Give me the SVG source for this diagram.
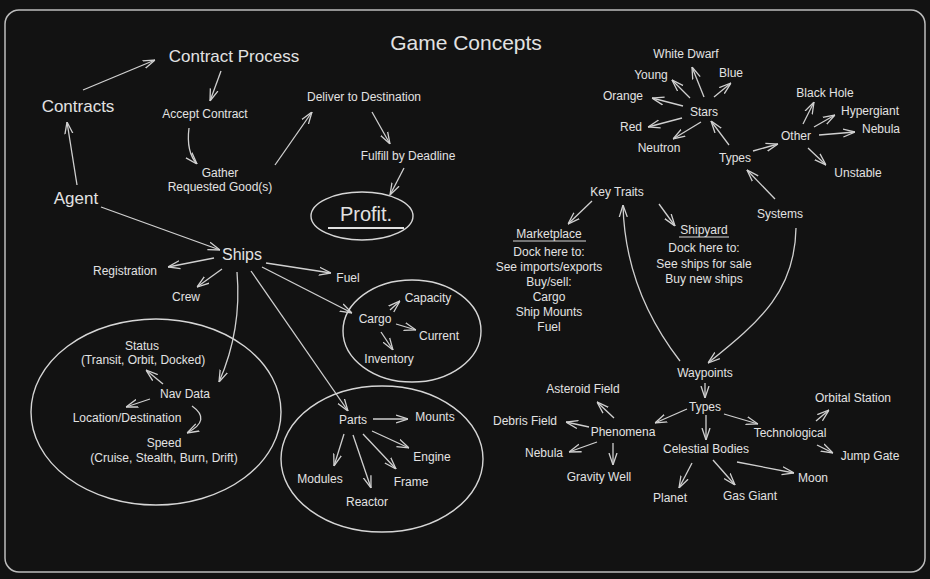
<svg xmlns="http://www.w3.org/2000/svg" width="930" height="579" viewBox="0 0 930 579">
<defs>
<style>
text{font-family:"Liberation Sans","DejaVu Sans",sans-serif;fill:#e2e2e2;text-anchor:middle;dominant-baseline:central}
.s{font-size:12px}
.m{font-size:14px}
.l{font-size:17px}
.c line,.c path{stroke:#d0d0d0;stroke-width:1.3;fill:none;marker-end:url(#a)}
.sh{fill:none;stroke:#d6d6d6;stroke-width:1.4}
.ul{stroke:#d6d6d6;stroke-width:1.2}
</style>
<marker id="a" viewBox="0 0 12 10" refX="12" refY="5" markerWidth="12" markerHeight="10" markerUnits="userSpaceOnUse" orient="auto">
<path d="M0,1 L12,5 L0,9" fill="none" stroke="#d0d0d0" stroke-width="1.3"/>
</marker>
</defs>
<rect width="930" height="579" fill="#121212"/>
<rect id="frame" x="5" y="10" width="920" height="562" rx="14" fill="none" stroke="#bdbdbd" stroke-width="1.5"/>
<g id="title"><text x="466" y="42" style="font-size:21px">Game Concepts</text></g>

<g id="contract-process"><text class="l" x="234" y="56">Contract Process</text></g>
<g id="contracts"><text class="l" x="78" y="106">Contracts</text></g>
<g id="agent"><text class="l" x="76" y="198">Agent</text></g>
<g id="accept-contract"><text class="s" x="205" y="114">Accept Contract</text></g>
<g id="gather"><text class="s" x="220" y="173">Gather</text><text class="s" x="220" y="187">Requested Good(s)</text></g>
<g id="deliver"><text class="s" x="364" y="97">Deliver to Destination</text></g>
<g id="fulfill"><text class="s" x="408" y="156">Fulfill by Deadline</text></g>
<g id="profit"><ellipse class="sh" cx="362" cy="216" rx="51" ry="24"/><text x="366" y="214" style="font-size:20px">Profit.</text><line x1="328" y1="228" x2="404" y2="228" stroke="#e0e0e0" stroke-width="2.2"/></g>

<g id="ships"><text x="242" y="254" style="font-size:16px">Ships</text></g>
<g id="registration"><text class="s" x="125" y="271">Registration</text></g>
<g id="crew"><text class="s" x="186" y="297">Crew</text></g>
<g id="fuel"><text class="s" x="348" y="278">Fuel</text></g>

<g id="cargo-group"><ellipse class="sh" cx="412" cy="331" rx="69" ry="51"/></g>
<g id="cargo"><text class="s" x="375" y="319">Cargo</text></g>
<g id="capacity"><text class="s" x="428" y="298">Capacity</text></g>
<g id="current"><text class="s" x="439" y="336">Current</text></g>
<g id="inventory"><text class="s" x="389" y="359">Inventory</text></g>

<g id="parts-group"><ellipse class="sh" cx="382" cy="459" rx="101" ry="73"/></g>
<g id="parts"><text class="s" x="353" y="420">Parts</text></g>
<g id="mounts"><text class="s" x="435" y="417">Mounts</text></g>
<g id="engine"><text class="s" x="432" y="457">Engine</text></g>
<g id="frame-part"><text class="s" x="411" y="482">Frame</text></g>
<g id="modules"><text class="s" x="320" y="479">Modules</text></g>
<g id="reactor"><text class="s" x="367" y="502">Reactor</text></g>

<g id="nav-group"><ellipse class="sh" cx="156" cy="412" rx="125" ry="93"/></g>
<g id="status"><text class="s" x="142" y="346">Status</text><text class="s" x="143" y="360">(Transit, Orbit, Docked)</text></g>
<g id="nav-data"><text class="s" x="185" y="394">Nav Data</text></g>
<g id="location"><text class="s" x="127" y="418">Location/Destination</text></g>
<g id="speed"><text class="s" x="164" y="443">Speed</text><text class="s" x="164" y="458">(Cruise, Stealth, Burn, Drift)</text></g>

<g id="white-dwarf"><text class="s" x="686" y="54">White Dwarf</text></g>
<g id="young"><text class="s" x="651" y="75">Young</text></g>
<g id="blue"><text class="s" x="731" y="73">Blue</text></g>
<g id="orange"><text class="s" x="623" y="96">Orange</text></g>
<g id="stars"><text class="s" x="704" y="112">Stars</text></g>
<g id="red"><text class="s" x="631" y="127">Red</text></g>
<g id="neutron"><text class="s" x="659" y="148">Neutron</text></g>
<g id="sys-types"><text class="s" x="735" y="158">Types</text></g>
<g id="other"><text class="s" x="796" y="136">Other</text></g>
<g id="black-hole"><text class="s" x="825" y="93">Black Hole</text></g>
<g id="hypergiant"><text class="s" x="870" y="111">Hypergiant</text></g>
<g id="nebula-star"><text class="s" x="881" y="129">Nebula</text></g>
<g id="unstable"><text class="s" x="858" y="173">Unstable</text></g>
<g id="key-traits"><text class="s" x="617" y="192">Key Traits</text></g>
<g id="systems"><text class="s" x="780" y="214">Systems</text></g>
<g id="marketplace"><text class="s" x="549" y="234">Marketplace</text><line class="ul" x1="513" y1="241" x2="586" y2="241"/><text class="s" x="549" y="252">Dock here to:</text><text class="s" x="549" y="267">See imports/exports</text><text class="s" x="549" y="282">Buy/sell:</text><text class="s" x="549" y="297">Cargo</text><text class="s" x="549" y="312">Ship Mounts</text><text class="s" x="549" y="327">Fuel</text></g>
<g id="shipyard"><text class="s" x="704" y="230">Shipyard</text><line class="ul" x1="679" y1="237" x2="729" y2="237"/><text class="s" x="704" y="248">Dock here to:</text><text class="s" x="704" y="264">See ships for sale</text><text class="s" x="704" y="279">Buy new ships</text></g>

<g id="waypoints"><text class="s" x="705" y="373">Waypoints</text></g>
<g id="wp-types"><text class="s" x="705" y="407">Types</text></g>
<g id="asteroid-field"><text class="s" x="583" y="389">Asteroid Field</text></g>
<g id="debris-field"><text class="s" x="525" y="421">Debris Field</text></g>
<g id="phenomena"><text class="s" x="623" y="432">Phenomena</text></g>
<g id="nebula-wp"><text class="s" x="544" y="453">Nebula</text></g>
<g id="gravity-well"><text class="s" x="599" y="477">Gravity Well</text></g>
<g id="celestial"><text class="s" x="706" y="449">Celestial Bodies</text></g>
<g id="planet"><text class="s" x="670" y="498">Planet</text></g>
<g id="gas-giant"><text class="s" x="750" y="496">Gas Giant</text></g>
<g id="moon"><text class="s" x="813" y="478">Moon</text></g>
<g id="technological"><text class="s" x="790" y="433">Technological</text></g>
<g id="orbital-station"><text class="s" x="853" y="398">Orbital Station</text></g>
<g id="jump-gate"><text class="s" x="870" y="456">Jump Gate</text></g>

<g id="connectors" class="c">
<line x1="83" y1="90" x2="155" y2="60"/>
<line x1="221" y1="71" x2="210" y2="101"/>
<path d="M189,128 Q186,152 197,164"/>
<line x1="275" y1="165" x2="312" y2="112"/>
<line x1="372" y1="112" x2="390" y2="144"/>
<line x1="404" y1="168" x2="390" y2="195"/>
<line x1="77" y1="185" x2="67" y2="122"/>
<line x1="101" y1="207" x2="220" y2="250"/>
<line x1="214" y1="258" x2="168" y2="267"/>
<line x1="222" y1="269" x2="197" y2="287"/>
<line x1="266" y1="263" x2="331" y2="273"/>
<line x1="262" y1="267" x2="352" y2="313"/>
<path d="M237,272 Q242,330 219,382"/>
<line x1="251" y1="271" x2="348" y2="411"/>
<line x1="390" y1="310" x2="400" y2="301"/>
<line x1="396" y1="324" x2="416" y2="330"/>
<line x1="381" y1="332" x2="393" y2="350"/>
<line x1="163" y1="384" x2="146" y2="370"/>
<line x1="150" y1="399" x2="126" y2="407"/>
<path d="M192,406 Q212,420 187,433"/>
<line x1="373" y1="419" x2="408" y2="419"/>
<line x1="344" y1="434" x2="334" y2="466"/>
<line x1="353" y1="435" x2="371" y2="488"/>
<line x1="363" y1="434" x2="396" y2="469"/>
<line x1="372" y1="431" x2="409" y2="448"/>
<line x1="704" y1="97" x2="692" y2="67"/>
<line x1="690" y1="98" x2="672" y2="80"/>
<line x1="714" y1="97" x2="731" y2="83"/>
<line x1="683" y1="106" x2="652" y2="98"/>
<line x1="682" y1="118" x2="648" y2="127"/>
<line x1="701" y1="122" x2="673" y2="139"/>
<line x1="729" y1="145" x2="711" y2="121"/>
<line x1="753" y1="151" x2="778" y2="144"/>
<line x1="803" y1="124" x2="814" y2="102"/>
<line x1="814" y1="127" x2="835" y2="115"/>
<line x1="819" y1="135" x2="855" y2="132"/>
<line x1="808" y1="148" x2="826" y2="165"/>
<line x1="775" y1="199" x2="747" y2="170"/>
<line x1="592" y1="201" x2="568" y2="224"/>
<line x1="659" y1="204" x2="675" y2="226"/>
<path d="M680,361 Q625,290 623,205"/>
<path d="M796,228 C795,290 762,320 708,363"/>
<line x1="705" y1="383" x2="705" y2="398"/>
<line x1="687" y1="409" x2="655" y2="423"/>
<line x1="706" y1="415" x2="706" y2="440"/>
<line x1="724" y1="414" x2="758" y2="424"/>
<line x1="816" y1="421" x2="829" y2="410"/>
<line x1="817" y1="445" x2="833" y2="453"/>
<line x1="614" y1="418" x2="597" y2="402"/>
<line x1="589" y1="427" x2="566" y2="422"/>
<line x1="597" y1="442" x2="569" y2="452"/>
<line x1="613" y1="443" x2="613" y2="465"/>
<line x1="692" y1="463" x2="679" y2="488"/>
<line x1="713" y1="460" x2="735" y2="485"/>
<line x1="737" y1="462" x2="794" y2="473"/>
</g>
</svg>
